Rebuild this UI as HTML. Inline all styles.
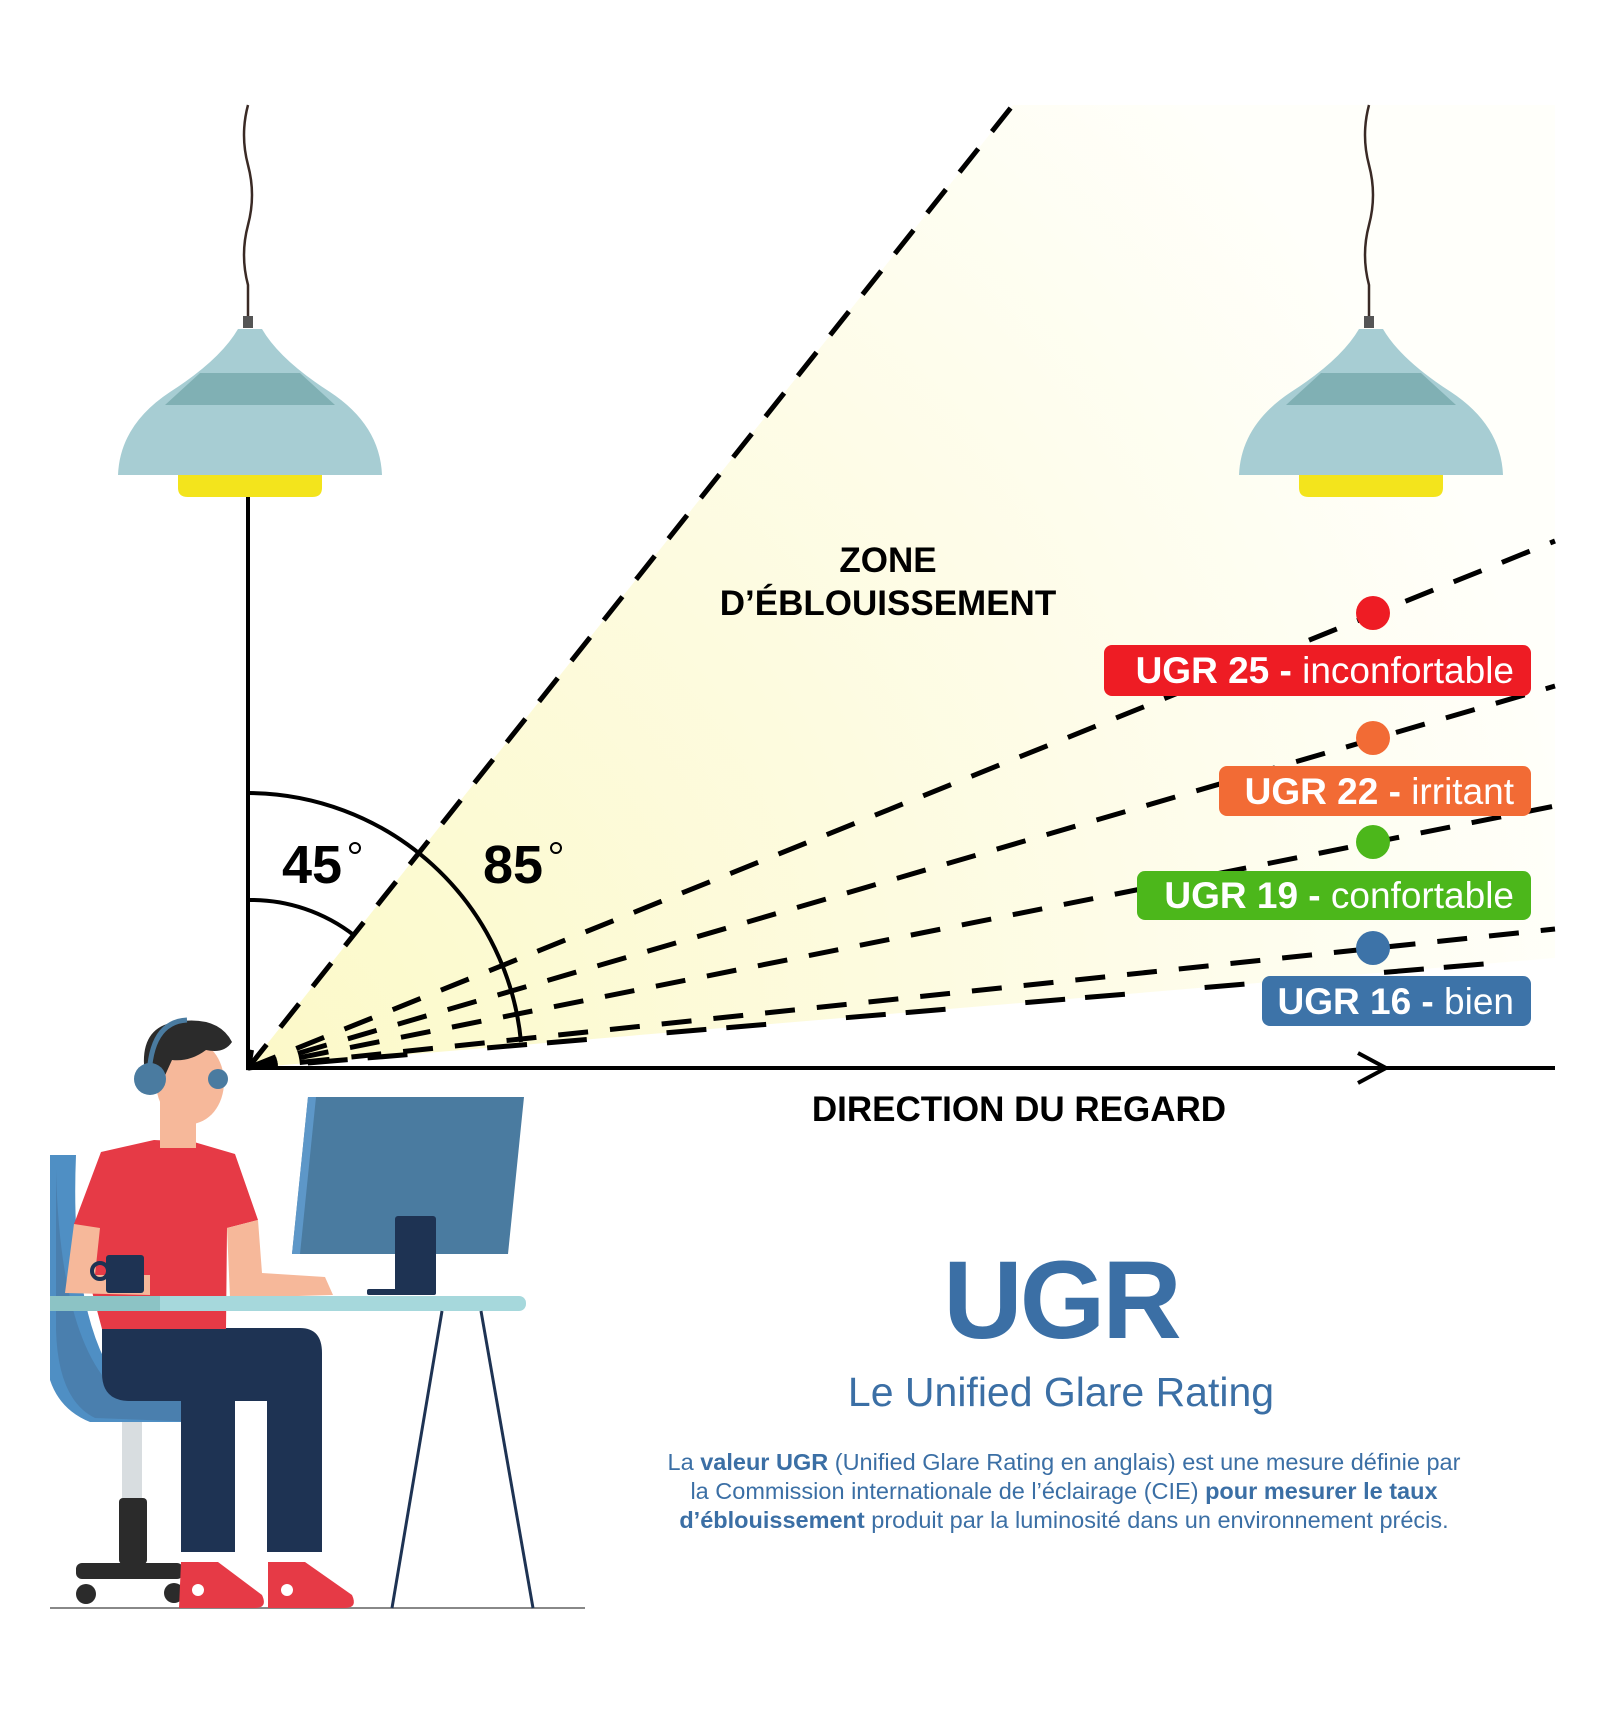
<!DOCTYPE html>
<html><head><meta charset="utf-8"><style>
html,body{margin:0;padding:0;background:#fff}
svg{display:block}
text{font-family:"Liberation Sans",sans-serif}
</style></head><body>
<svg width="1600" height="1710" viewBox="0 0 1600 1710" xmlns="http://www.w3.org/2000/svg">
<defs>
<radialGradient id="glow" cx="248" cy="1068" r="1350" gradientUnits="userSpaceOnUse">
<stop offset="0" stop-color="#fcf9c8"/>
<stop offset="0.5" stop-color="#fdfbe0"/>
<stop offset="1" stop-color="#fffffa"/>
</radialGradient>
</defs>
<rect width="1600" height="1710" fill="#fff"/>
<polygon points="248,1068 1013,105 1555,105 1555,958" fill="url(#glow)"/>

<g>
<path d="M248,105 q-8,30 0,60 q8,30 0,60 q-8,30 0,60 l0,33" stroke="#3a2a25" stroke-width="2.5" fill="none"/>
<rect x="243" y="316" width="10" height="12" fill="#555"/>
<path d="M238,329 Q220,360 170,392 Q120,425 118,475 H382 Q380,425 330,392 Q280,360 262,329 Z" fill="#a7cdd3"/>
<path d="M200,373 L300,373 L335,405 L165,405 Z" fill="#80b0b4"/>
<path d="M178,475 H322 V488 Q322,497 312,497 H188 Q178,497 178,488 Z" fill="#f3e41c"/>
</g>
<g transform="translate(1121,0)">
<path d="M248,105 q-8,30 0,60 q8,30 0,60 q-8,30 0,60 l0,33" stroke="#3a2a25" stroke-width="2.5" fill="none"/>
<rect x="243" y="316" width="10" height="12" fill="#555"/>
<path d="M238,329 Q220,360 170,392 Q120,425 118,475 H382 Q380,425 330,392 Q280,360 262,329 Z" fill="#a7cdd3"/>
<path d="M200,373 L300,373 L335,405 L165,405 Z" fill="#80b0b4"/>
<path d="M178,475 H322 V488 Q322,497 312,497 H188 Q178,497 178,488 Z" fill="#f3e41c"/>
</g>

<line x1="248" y1="497" x2="248" y2="1070" stroke="#000" stroke-width="4"/>
<line x1="246" y1="1068" x2="1555" y2="1068" stroke="#000" stroke-width="4"/>
<polyline points="1358,1053 1386,1068 1358,1083" fill="none" stroke="#000" stroke-width="4"/>
<polyline points="252,1050 249,1068 268,1066" fill="none" stroke="#000" stroke-width="4"/>

<g stroke="#000" stroke-width="5" fill="none" stroke-dasharray="30 22">
<line x1="248" y1="1068" x2="1013" y2="105"/>
<line x1="248" y1="1068" x2="1555" y2="541"/>
<line x1="248" y1="1068" x2="1555" y2="686"/>
<line x1="248" y1="1068" x2="1555" y2="806"/>
<line x1="248" y1="1068" x2="1555" y2="929"/>
<line x1="248" y1="1068" x2="1555" y2="958" stroke-dasharray="0 60 40 20 40 20"/>
</g>
<path d="M248,793 A275,275 0 0 1 521,1042" fill="none" stroke="#000" stroke-width="4"/>
<path d="M248,900 A168,168 0 0 1 355,936" fill="none" stroke="#000" stroke-width="4"/>

<text x="282" y="883" font-size="54" font-weight="bold">45</text>
<circle cx="355" cy="848" r="5" fill="none" stroke="#000" stroke-width="2"/>
<text x="483" y="883" font-size="54" font-weight="bold">85</text>
<circle cx="556" cy="848" r="5" fill="none" stroke="#000" stroke-width="2"/>

<text x="888" y="572" font-size="35" font-weight="bold" text-anchor="middle">ZONE</text>
<text x="888" y="615" font-size="35" font-weight="bold" text-anchor="middle">D’ÉBLOUISSEMENT</text>
<text x="1019" y="1121" font-size="35" font-weight="bold" text-anchor="middle">DIRECTION DU REGARD</text>

<circle cx="1373" cy="613" r="17" fill="#ee1c24"/>
<rect x="1104" y="645" width="427" height="51" rx="8" fill="#ee1c24"/>
<text x="1514" y="683" font-size="37" fill="#fff" text-anchor="end"><tspan font-weight="bold">UGR 25 -</tspan> inconfortable</text>
<circle cx="1373" cy="738" r="17" fill="#f26b35"/>
<rect x="1219" y="766" width="312" height="50" rx="8" fill="#f26b35"/>
<text x="1514" y="804" font-size="37" fill="#fff" text-anchor="end"><tspan font-weight="bold">UGR 22 -</tspan> irritant</text>
<circle cx="1373" cy="842" r="17" fill="#4cb71b"/>
<rect x="1137" y="871" width="394" height="49" rx="8" fill="#4cb71b"/>
<text x="1514" y="908" font-size="37" fill="#fff" text-anchor="end"><tspan font-weight="bold">UGR 19 -</tspan> confortable</text>
<circle cx="1373" cy="948" r="17" fill="#3d73a8"/>
<rect x="1262" y="976" width="269" height="50" rx="8" fill="#3d73a8"/>
<text x="1514" y="1014" font-size="37" fill="#fff" text-anchor="end"><tspan font-weight="bold">UGR 16 -</tspan> bien</text>

<text x="1061" y="1338" font-size="110" font-weight="bold" fill="#3b6fa5" text-anchor="middle" letter-spacing="-3">UGR</text>
<text x="1061" y="1406" font-size="41" fill="#3b6fa5" text-anchor="middle">Le Unified Glare Rating</text>
<g font-size="23.5" fill="#3b6fa5" text-anchor="middle">
<text x="1064" y="1470">La <tspan font-weight="bold">valeur UGR</tspan> (Unified Glare Rating en anglais) est une mesure définie par</text>
<text x="1064" y="1499">la Commission internationale de l’éclairage (CIE) <tspan font-weight="bold">pour mesurer le taux</tspan></text>
<text x="1064" y="1528"><tspan font-weight="bold">d’éblouissement</tspan> produit par la luminosité dans un environnement précis.</text>
</g>

<line x1="50" y1="1608" x2="585" y2="1608" stroke="#888" stroke-width="2"/>
<path d="M50,1155 H76 Q70,1300 110,1370 L200,1374 L200,1422 L90,1422 Q60,1410 50,1380 Z" fill="#4f8fc4"/>
<path d="M56,1170 Q60,1330 110,1385 L200,1385 L200,1422 L95,1418 Q58,1400 56,1330 Z" fill="#4a7fae"/>
<rect x="122" y="1422" width="20" height="76" fill="#d8dde0"/>
<rect x="119" y="1498" width="28" height="66" rx="4" fill="#2b2b2b"/>
<rect x="76" y="1563" width="107" height="16" rx="6" fill="#2b2b2b"/>
<circle cx="86" cy="1594" r="10" fill="#2b2b2b"/>
<circle cx="174" cy="1593" r="10" fill="#2b2b2b"/>
<polygon points="308,1097 524,1097 508,1254 292,1254" fill="#4a7ba0"/>
<polygon points="308,1097 316,1097 300,1254 292,1254" fill="#5d97c8"/>
<rect x="395" y="1216" width="41" height="78" rx="3" fill="#1e3353"/>
<rect x="367" y="1289" width="69" height="6" rx="2" fill="#1e3353"/>
<path d="M102,1328 H300 Q322,1328 322,1353 V1552 H267 V1401 H235 V1552 H181 V1401 H130 Q102,1401 102,1373 Z" fill="#1e3353"/>
<path d="M181,1562 H218 L262,1595 Q268,1608 255,1608 H179 Z" fill="#e63a46"/>
<path d="M268,1562 H305 L352,1595 Q358,1608 345,1608 H268 Z" fill="#e63a46"/>
<circle cx="198" cy="1590" r="6" fill="#fff"/>
<circle cx="287" cy="1590" r="6" fill="#fff"/>
<polygon points="101,1152 154,1140 194,1142 235,1154 258,1220 227,1228 226,1329 102,1329 74,1224" fill="#e63a46"/>
<polygon points="227,1228 258,1220 262,1273 325,1277 333,1295 230,1298" fill="#f6b89a"/>
<polygon points="74,1224 100,1228 95,1275 150,1275 150,1295 65,1293" fill="#f6b89a"/>
<rect x="106" y="1255" width="38" height="38" rx="3" fill="#1e3353"/>
<circle cx="100" cy="1271" r="8" fill="none" stroke="#1e3353" stroke-width="4"/>
<rect x="50" y="1296" width="476" height="15" rx="7" fill="#a6d8dc"/>
<rect x="50" y="1296" width="110" height="15" fill="#8cc3c5"/>
<line x1="442" y1="1311" x2="392" y2="1608" stroke="#1e3353" stroke-width="3"/>
<line x1="481" y1="1311" x2="533" y2="1608" stroke="#1e3353" stroke-width="3"/>
<rect x="160" y="1100" width="36" height="48" fill="#f6b89a"/>
<ellipse cx="190" cy="1082" rx="34" ry="42" fill="#f6b89a"/>
<path d="M145,1075 Q138,1028 175,1022 Q218,1015 232,1042 Q224,1054 206,1050 Q190,1062 172,1060 L162,1082 Z" fill="#2b2b2b"/>
<path d="M149,1079 Q150,1022 187,1020" fill="none" stroke="#4a7ba0" stroke-width="5"/>
<circle cx="150" cy="1079" r="16" fill="#4a7ba0"/>
<circle cx="218" cy="1079" r="10" fill="#4a7ba0"/>
</svg>
</body></html>
